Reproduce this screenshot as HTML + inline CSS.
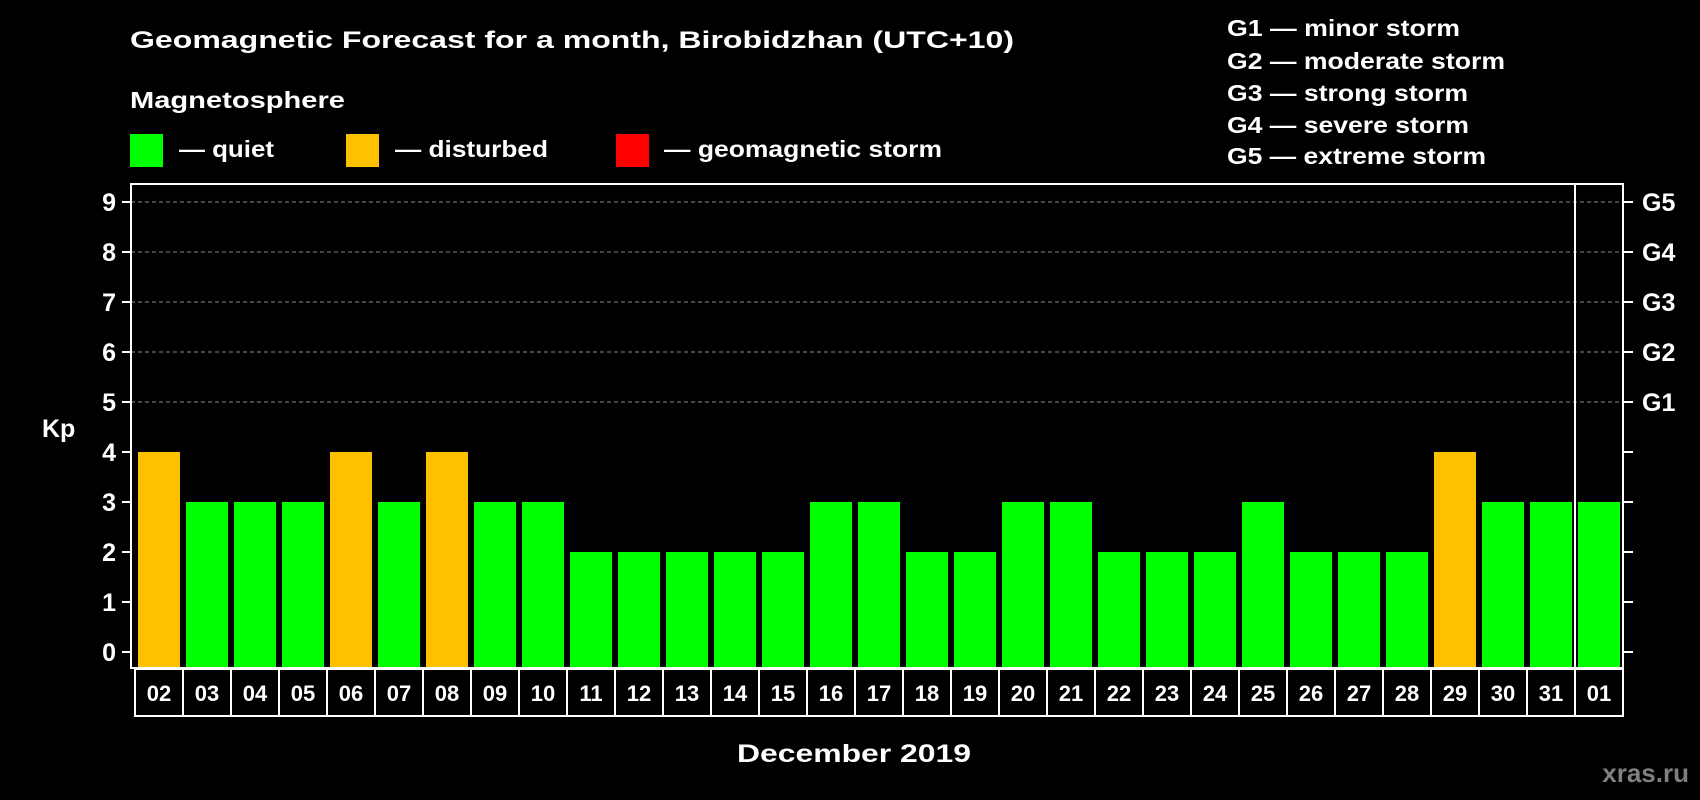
<!DOCTYPE html>
<html><head><meta charset="utf-8"><style>
html,body{margin:0;padding:0;background:#000;}
svg{display:block;font-family:"Liberation Sans",Arial,sans-serif;font-weight:bold;}
</style></head><body>
<svg id="chart" width="1700" height="800" viewBox="0 0 1700 800">
<rect width="1700" height="800" fill="#000"/>
<text x="130" y="48" font-size="24" fill="#fff" textLength="884" lengthAdjust="spacingAndGlyphs">Geomagnetic Forecast for a month, Birobidzhan (UTC+10)</text>
<text x="130" y="108" font-size="23" fill="#fff" textLength="215" lengthAdjust="spacingAndGlyphs">Magnetosphere</text>
<rect x="130" y="134" width="33" height="33" fill="#00ff00"/>
<text x="179" y="157" font-size="23" fill="#fff" textLength="95" lengthAdjust="spacingAndGlyphs">— quiet</text>
<rect x="346" y="134" width="33" height="33" fill="#ffc000"/>
<text x="395" y="157" font-size="23" fill="#fff" textLength="153" lengthAdjust="spacingAndGlyphs">— disturbed</text>
<rect x="616" y="134" width="33" height="33" fill="#ff0000"/>
<text x="664" y="157" font-size="23" fill="#fff" textLength="278" lengthAdjust="spacingAndGlyphs">— geomagnetic storm</text>
<g font-size="23" fill="#fff">
<text x="1227" y="36" textLength="233" lengthAdjust="spacingAndGlyphs">G1 — minor storm</text>
<text x="1227" y="69" textLength="278" lengthAdjust="spacingAndGlyphs">G2 — moderate storm</text>
<text x="1227" y="101" textLength="241" lengthAdjust="spacingAndGlyphs">G3 — strong storm</text>
<text x="1227" y="133" textLength="242" lengthAdjust="spacingAndGlyphs">G4 — severe storm</text>
<text x="1227" y="164" textLength="259" lengthAdjust="spacingAndGlyphs">G5 — extreme storm</text>
</g>
<text x="42" y="437" font-size="25" fill="#fff">Kp</text>
<g id="grid"></g>
<g id="bars"></g>
<g id="axes"></g>
<text x="854" y="762" font-size="25" fill="#fff" text-anchor="middle" textLength="234" lengthAdjust="spacingAndGlyphs">December 2019</text>
<text x="1689" y="782" font-size="26" fill="#808080" text-anchor="end">xras.ru</text>
</svg>
<script>
const days = ["02","03","04","05","06","07","08","09","10","11","12","13","14","15","16","17","18","19","20","21","22","23","24","25","26","27","28","29","30","31","01"];
const kp = [4,3,3,3,4,3,4,3,3,2,2,2,2,2,3,3,2,2,3,3,2,2,2,3,2,2,2,4,3,3,3];
const yTicks = [0,1,2,3,4,5,6,7,8,9];
const gLabels = ["G1","G2","G3","G4","G5"];
const gLevels = [5,6,7,8,9];
const NS = "http://www.w3.org/2000/svg";
const L=131,R=1623,T=184,B=668,X0=135,SLOT=48,BW=42;
const y = v => 652 - v*50;
const xs = i => X0 + i*SLOT;
function mk(tag, attrs, parent){const e=document.createElementNS(NS,tag);for(const k in attrs)e.setAttribute(k,attrs[k]);parent.appendChild(e);return e;}
const grid=document.getElementById('grid'), bars=document.getElementById('bars'), axes=document.getElementById('axes');
gLevels.forEach(v=>{
  const l=mk('line',{x1:L,x2:R,y1:y(v),y2:y(v),stroke:'#888','stroke-width':1,'stroke-dasharray':'4,3'},grid);
  
  
});
kp.forEach((v,i)=>{
  const c = v>=5?'#ff0000':(v>=4?'#ffc000':'#00ff00');
  const r=mk('rect',{x:xs(i)+3,y:y(v),width:BW,height:y(0)-y(v)+16,fill:c},bars);
  
  
});
const frame=mk('rect',{x:L,y:T,width:R-L,height:B-T,fill:'none',stroke:'#fff','stroke-width':2},axes);


const sep=mk('line',{x1:xs(30),x2:xs(30),y1:T,y2:B,stroke:'#fff','stroke-width':2},axes);


yTicks.forEach(v=>{
  mk('line',{x1:122,x2:L,y1:y(v),y2:y(v),stroke:'#fff','stroke-width':2},axes);
  mk('line',{x1:R,x2:1633,y1:y(v),y2:y(v),stroke:'#fff','stroke-width':2},axes);
  const t=mk('text',{x:116,y:y(v)+9,'font-size':25,fill:'#fff','text-anchor':'end'},axes);
  t.textContent=v;
  
  
});
gLabels.forEach((g,i)=>{
  const t=mk('text',{x:1642,y:y(gLevels[i])+9,'font-size':25,fill:'#fff'},axes);
  t.textContent=g;
  
  
});
days.forEach((d,i)=>{
  const b=mk('rect',{x:xs(i),y:669,width:SLOT,height:47,fill:'none',stroke:'#fff','stroke-width':2},axes);
  
  
  const t=mk('text',{x:xs(i)+SLOT/2,y:701,'font-size':22,fill:'#fff','text-anchor':'middle'},axes);
  t.textContent=d;
  
  
});
</script>
</body></html>
